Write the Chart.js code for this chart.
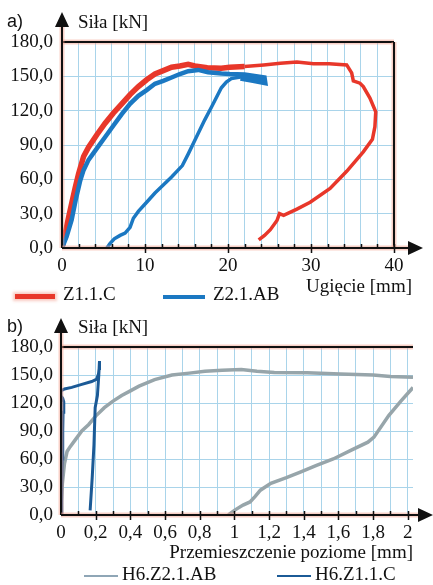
<!DOCTYPE html>
<html>
<head>
<meta charset="utf-8">
<script src="https://cdn.jsdelivr.net/npm/chart.js@4.4.0/dist/chart.umd.min.js"></script>
<style>
body{margin:0;width:433px;height:585px;background:#fff;position:relative;overflow:hidden;font-family:"Liberation Serif","Times New Roman",serif;color:#111;}
.box{position:absolute;left:0;width:433px;}
#boxA{top:0;height:300px;}
#boxB{top:300px;height:285px;}
.txt{position:absolute;font-size:19px;line-height:19px;white-space:nowrap;}
.sans{font-family:"Liberation Sans",Arial,sans-serif;font-size:18px;}
.key{position:absolute;}
</style>
</head>
<body>
<div class="box" id="boxA"><canvas id="chartA" width="433" height="300"></canvas></div>
<div class="box" id="boxB"><canvas id="chartB" width="433" height="285"></canvas></div>

<!-- a) labels -->
<div class="txt sans" style="left:7px;top:12px;">a)</div>
<div class="txt" style="left:78px;top:12px;">Siła [kN]</div>
<div class="txt" style="right:21px;top:276px;">Ugięcie [mm]</div>
<div class="key" style="left:15px;top:294px;width:40px;height:5px;background:#e8372a;box-shadow:0 0 3px 2px rgba(240,140,120,.45);"></div>
<div class="txt" style="left:63px;top:284px;">Z1.1.C</div>
<div class="key" style="left:163px;top:295px;width:42px;height:4px;background:#1b78c2;"></div>
<div class="txt" style="left:213px;top:284px;">Z2.1.AB</div>

<!-- b) labels -->
<div class="txt sans" style="left:7px;top:317px;">b)</div>
<div class="txt" style="left:78px;top:317px;">Siła [kN]</div>
<div class="txt" style="right:20px;top:542px;">Przemieszczenie poziome [mm]</div>
<div class="key" style="left:84px;top:575px;width:34px;height:2px;background:#8fa6b6;"></div>
<div class="txt" style="left:122px;top:564px;">H6.Z2.1.AB</div>
<div class="key" style="left:277px;top:575px;width:34px;height:2px;background:#1b5a96;"></div>
<div class="txt" style="left:315px;top:564px;">H6.Z1.1.C</div>

<script>
// ---- a) ugięcie [mm] / siła [kN] ----
const z11cX = [0, 0.4, 0.8, 1.2, 1.6, 2.0, 2.6, 3.2, 4.2, 5.2, 6.2, 7.2, 8.2, 9.2, 10.2, 11.2, 12.2, 13.2, 14.2, 15.2, 16.0, 17.5, 19.2, 20.2, 22.0, 24.3, 26.3, 28.3, 30.3, 32.2, 34.3, 34.9, 35.1, 35.9, 36.3, 37.1, 37.8, 37.7, 37.4, 36.3, 34.3, 32.3, 29.9, 28.3, 26.7, 26.2, 25.9, 25.1, 24.4, 23.7];
const z11cY = [0, 13, 27, 40, 53, 65, 80, 88, 99, 109, 118, 126, 134, 141, 147, 152, 155, 158, 159, 160.5, 159, 157.5, 157, 158, 158.5, 160, 161.5, 162.5, 161, 161, 160, 153, 146, 144, 141, 131, 119, 106, 95, 84, 67, 52, 40, 34, 28.5, 30, 24, 16, 11, 7];

// Z2.1.AB: pierwsze obciążenie, potem (po przerwie) ponowne obciążenie od ~5,4 mm
const z21abX = [0, 0.56, 1.16, 1.65, 2.2, 2.6, 3.2, 4.2, 5.2, 6.2, 7.2, 8.2, 9.2, 10.2, 11.2, 12.2, 13.2, 14.2, 15.2, 16.4, 17.6, 19.2, 20.2, 22.0, 24.4, 24.5, 23.0, 21.5, null,
                5.4, 5.8, 6.3, 7.0, 7.6, 8.2, 8.6, 9.2, 10.2, 11.2, 12.2, 13.2, 14.5, 15.2, 16.4, 17.2, 18.0, 19.2, 19.8, 20.4, 21.5, 22.0, 24.3];
const z21abY = [0, 10, 24.6, 42, 59, 68, 77, 87, 97, 107, 117, 126, 133, 138, 143.5, 146, 149, 152, 154.5, 155.6, 153.6, 152.5, 152, 151.5, 149, 144, 146, 148, null,
                0, 4, 8, 11, 13, 18, 26, 32, 40, 48, 55, 62, 72, 82, 100, 112, 123, 140, 145, 148, 149.5, 149.5, 146];

// ---- b) przemieszczenie poziome [mm] / siła [kN] ----
const h6z21abX = [0, 0.003, 0.008, 0.02, 0.035, 0.052, 0.08, 0.12, 0.16, 0.2, 0.25, 0.3, 0.35, 0.4, 0.45, 0.54, 0.64, 0.74, 0.83, 0.93, 1.04, 1.13, 1.23, 1.42, 1.61, 1.8, 1.9, 2.03, null,
                  0.965, 1.0, 1.05, 1.09, 1.12, 1.15, 1.21, 1.3, 1.38, 1.47, 1.57, 1.68, 1.77, 1.805, 1.89, 1.96, 2.03];
const h6z21abY = [0, 15, 34, 55, 68, 73, 80, 90, 97, 106, 115, 122, 128, 133, 138, 145, 150, 152, 154, 155, 156, 154, 152.7, 152.3, 151, 150, 148.5, 147.5, null,
                  0, 5, 10.6, 14, 20, 26.6, 34, 40, 46, 53, 60, 70, 78, 83.4, 106.5, 122, 136.6];

const h6z11cX = [0, 0.004, 0.007, 0.01, 0.012, 0.016, 0.01, 0.003, 0, 0.02, 0.062, 0.12, 0.177, 0.206, 0.216, 0.22, 0.222, 0.218, 0.21, 0.197, 0.19, 0.18, 0.168];
const h6z11cY = [0, 30, 60, 90, 110, 121, 125, 127, 133, 135, 136.7, 140, 143, 145.6, 151, 157, 165, 150, 128, 115, 75, 40, 5];

const yTicksA = [0, 30, 60, 90, 120, 150, 180];
const yTicksB = [0, 30, 60, 90, 120, 150, 180];

const red = '#e8372a';
const blueA = '#1b78c2';
const grayB = '#97a5aa';
const blueB = '#1b5a96';
const gridBlue = '#a9d4ea';
const tickFont = { family: "'Liberation Serif', 'Times New Roman', serif", size: 19 };

function pts(xs, ys) {
  return xs.map((x, i) => ({ x: x === null ? NaN : x, y: ys[i] }));
}

function commaFmt(v, digits) {
  return v.toFixed(digits).replace('.', ',');
}

// ramka, osie ze strzałkami, znaczniki
const axisDeco = {
  id: 'axisDeco',
  afterDraw(chart, args, opts) {
    const { ctx, chartArea: a, scales } = chart;
    ctx.save();
    const halo = 'rgba(240,150,130,0.45)';

    function line(x1, y1, x2, y2) {
      ctx.strokeStyle = halo; ctx.lineWidth = 5;
      ctx.beginPath(); ctx.moveTo(x1, y1); ctx.lineTo(x2, y2); ctx.stroke();
      ctx.strokeStyle = '#111'; ctx.lineWidth = 2;
      ctx.beginPath(); ctx.moveTo(x1, y1); ctx.lineTo(x2, y2); ctx.stroke();
    }

    line(a.left, a.top, a.right, a.top);
    if (opts.rightBorder) line(a.right, a.top, a.right, a.bottom);

    const yTip = a.top - opts.yArrow;
    const xTip = a.right + opts.xArrow;
    line(a.left, a.bottom, a.left, yTip + 12);
    line(a.left, a.bottom, xTip - 12, a.bottom);

    ctx.fillStyle = '#111';
    ctx.beginPath();
    ctx.moveTo(a.left, yTip); ctx.lineTo(a.left - 7, yTip + 15); ctx.lineTo(a.left + 7, yTip + 15);
    ctx.closePath(); ctx.fill();
    ctx.beginPath();
    ctx.moveTo(xTip, a.bottom); ctx.lineTo(xTip - 15, a.bottom - 7); ctx.lineTo(xTip - 15, a.bottom + 7);
    ctx.closePath(); ctx.fill();

    ctx.strokeStyle = '#111'; ctx.lineWidth = 1.5;
    ctx.beginPath();
    scales.x.ticks.forEach(t => {
      if (t.value === 0) return;
      const px = Math.round(scales.x.getPixelForValue(t.value)) + 0.5;
      const major = t.label !== '';
      ctx.moveTo(px, a.bottom - 4);
      ctx.lineTo(px, a.bottom + (major ? 5 : 0));
    });
    ctx.stroke();
    ctx.restore();
  }
};

Chart.defaults.font.family = tickFont.family;

new Chart(document.getElementById('chartA'), {
  type: 'scatter',
  data: {
    datasets: [
      { label: 'Z2.1.AB', data: pts(z21abX, z21abY), showLine: true, spanGaps: false, borderColor: blueA, borderWidth: 4.5, pointRadius: 0, order: 1,
        segment: { borderWidth: c => c.p0DataIndex > 28 ? 3.5 : 4.5 } },
      { label: 'Z1.1.C', data: pts(z11cX, z11cY), showLine: true, borderColor: red, borderWidth: 5.5, pointRadius: 0, order: 2,
        segment: { borderWidth: c => c.p0.parsed.x > 21.5 ? 3.5 : 5.5 } }
    ]
  },
  options: {
    responsive: false,
    animation: false,
    devicePixelRatio: 1,
    layout: { padding: { top: 42, right: 39, left: 0, bottom: 0 } },
    plugins: { legend: { display: false }, tooltip: { enabled: false }, axisDeco: { rightBorder: true, yArrow: 30, xArrow: 29 } },
    scales: {
      x: {
        type: 'linear', min: 0, max: 40,
        afterFit: s => { s.height = 52; },
        border: { display: false },
        grid: { color: gridBlue, lineWidth: 1, drawTicks: false },
        ticks: { stepSize: 2, autoSkip: false, maxRotation: 0, padding: 7, color: '#111', font: tickFont,
          callback: v => (v % 10 === 0 ? String(v) : '') }
      },
      y: {
        min: 0, max: 180,
        afterFit: s => { s.width = 62; },
        border: { display: false },
        grid: { color: gridBlue, lineWidth: 1, drawTicks: false },
        afterBuildTicks: s => { s.ticks = yTicksA.map(v => ({ value: v })); },
        ticks: { padding: 9, color: '#111', font: tickFont, callback: v => commaFmt(v, 1) }
      }
    }
  },
  plugins: [axisDeco]
});

new Chart(document.getElementById('chartB'), {
  type: 'scatter',
  data: {
    datasets: [
      { label: 'H6.Z1.1.C', data: pts(h6z11cX, h6z11cY), showLine: true, borderColor: blueB, borderWidth: 3, pointRadius: 0, order: 1 },
      { label: 'H6.Z2.1.AB', data: pts(h6z21abX, h6z21abY), showLine: true, spanGaps: false, borderColor: grayB, borderWidth: 3.5, pointRadius: 0, order: 2 }
    ]
  },
  options: {
    responsive: false,
    animation: false,
    devicePixelRatio: 1,
    layout: { padding: { top: 47, right: 20, left: 0, bottom: 0 } },
    plugins: { legend: { display: false }, tooltip: { enabled: false }, axisDeco: { rightBorder: false, yArrow: 29, xArrow: 20 } },
    scales: {
      x: {
        type: 'linear', min: 0, max: 2.03,
        afterFit: s => { s.height = 70; },
        border: { display: false },
        grid: { color: gridBlue, lineWidth: 1, drawTicks: false },
        ticks: { stepSize: 0.1, includeBounds: false, autoSkip: false, maxRotation: 0, padding: 7, color: '#111', font: tickFont,
          callback: v => {
            const k = Math.round(v * 10);
            if (k % 2 !== 0) return '';
            return k % 10 === 0 ? String(k / 10) : commaFmt(k / 10, 1);
          } }
      },
      y: {
        min: 0, max: 180,
        afterFit: s => { s.width = 61; },
        border: { display: false },
        grid: { color: gridBlue, lineWidth: 1, drawTicks: false },
        afterBuildTicks: s => { s.ticks = yTicksB.map(v => ({ value: v })); },
        ticks: { padding: 8, color: '#111', font: tickFont, callback: v => commaFmt(v, 1) }
      }
    }
  },
  plugins: [axisDeco]
});
</script>
</body>
</html>
